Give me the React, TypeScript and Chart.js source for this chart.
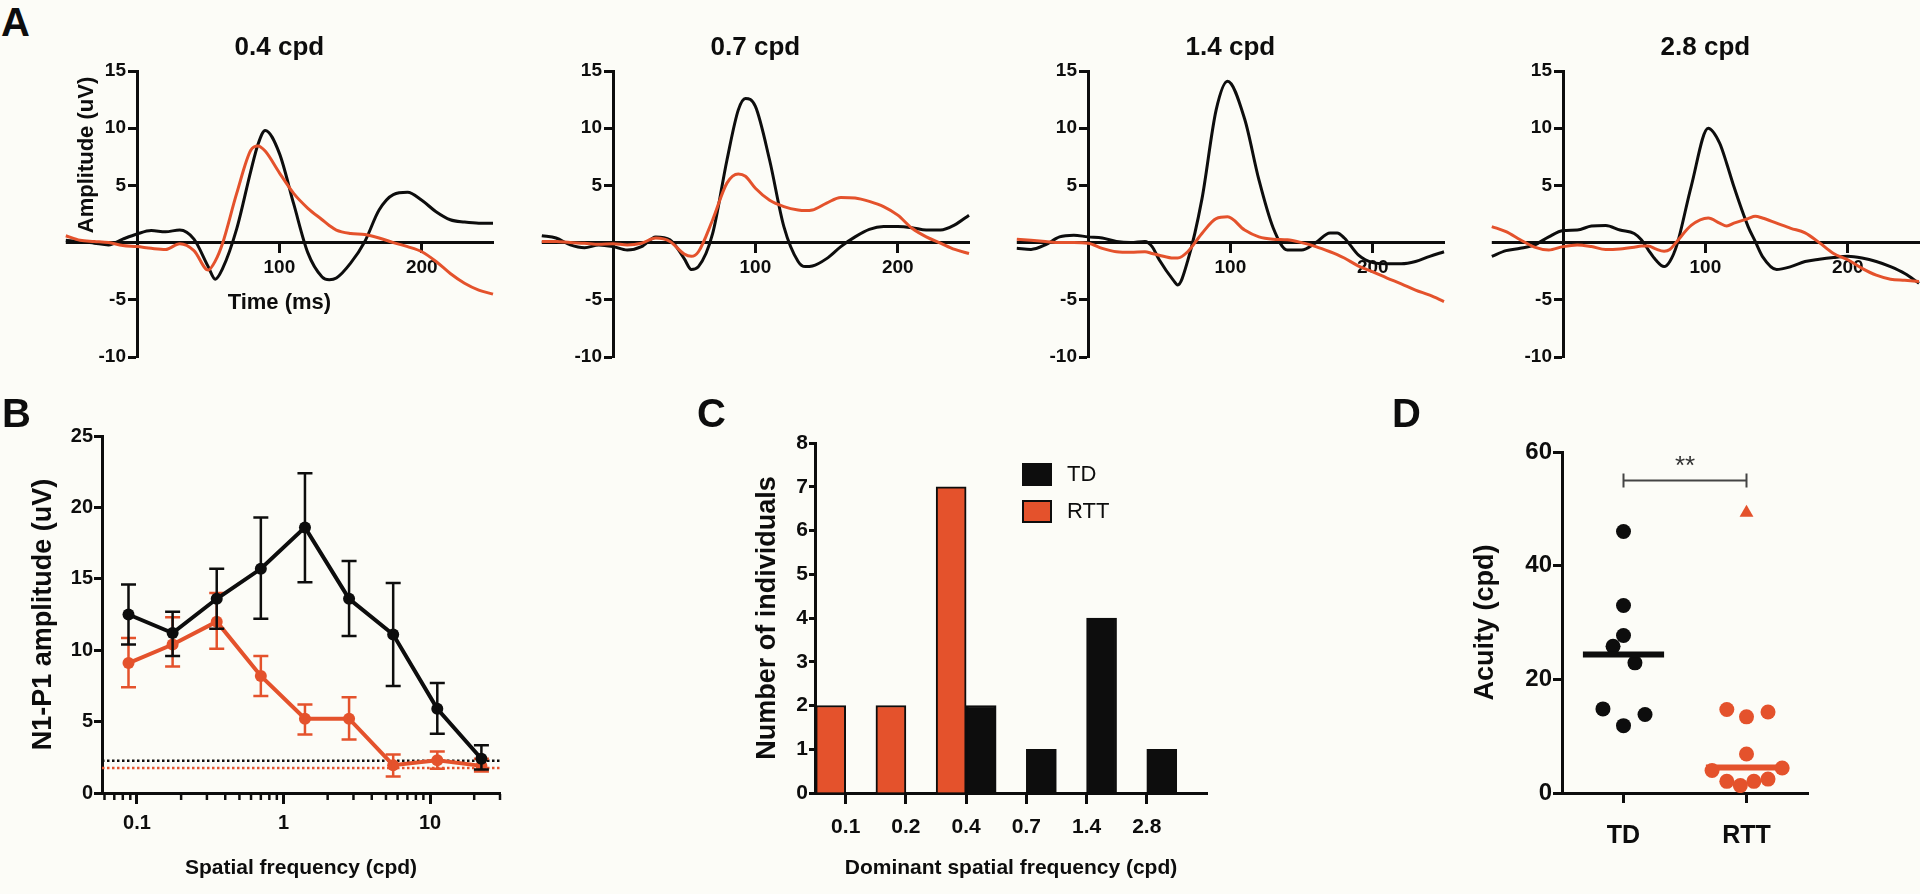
import React, { useEffect, useRef } from 'react';
import { Chart, registerables } from 'chart.js';

Chart.register(...registerables);

const FONT = '"Liberation Sans", Arial, Helvetica, sans-serif';
Chart.defaults.font.family = FONT;
Chart.defaults.color = '#000';

const BLACK = '#0d0d0d';
const RED = '#E4522C';
const BG = '#fcfcf7';

// ---------------- Panel A: waveforms ----------------
const A_TITLES = ['0.4 cpd', '0.7 cpd', '1.4 cpd', '2.8 cpd'];
const A_Y_TICKS = [-10, -5, 5, 10, 15];
const A_X_TICKS = [100, 200];
const A_T_MAX = 250;

const TIME_04 = [-50, -40, -30, -20, -10, 0, 10, 20, 30, 40, 50, 55, 60, 70, 80, 85, 90, 100, 110, 120, 130, 135, 140, 150, 160, 170, 180, 190, 200, 210, 220, 230, 240, 250];
const TD_04 = [0.2, 0.1, -0.05, -0.2, 0.3, 0.75, 1.05, 0.95, 1.1, 0.3, -2.1, -3.2, -2.3, 1.2, 6.3, 8.6, 9.8, 7.8, 3.4, -0.9, -3.0, -3.25, -3.1, -1.8, 0.1, 2.85, 4.2, 4.4, 3.7, 2.7, 2.0, 1.8, 1.7, 1.7];
const RTT_04 = [0.6, 0.2, 0.1, 0, -0.25, -0.35, -0.5, -0.6, -0.1, -0.7, -2.4, -1.6, -0.1, 4.3, 8.1, 8.45, 8.0, 6.1, 4.3, 3.0, 2.0, 1.5, 1.1, 0.8, 0.7, 0.4, 0, -0.35, -0.8, -1.65, -2.7, -3.55, -4.15, -4.5];

const TIME_07 = [-50, -40, -30, -20, -10, 0, 10, 20, 30, 40, 50, 55, 60, 70, 80, 88, 93, 100, 110, 120, 130, 135, 140, 150, 160, 170, 180, 190, 200, 210, 220, 230, 240, 250];
const TD_07 = [0.6, 0.4, -0.2, -0.45, -0.2, -0.35, -0.65, -0.35, 0.5, 0.25, -1.4, -2.35, -2.1, 0.8, 7.2, 11.6, 12.6, 11.9, 7.2, 1.4, -1.65, -2.1, -2.05, -1.4, -0.35, 0.5, 1.15, 1.4, 1.4, 1.3, 1.1, 1.1, 1.55, 2.4];
const RTT_07 = [0.1, 0.1, 0, -0.05, -0.15, -0.1, -0.2, -0.05, 0.4, 0.1, -1.0, -1.2, -0.8, 2.0, 5.2, 6.0, 5.8, 4.75, 3.7, 3.15, 2.85, 2.8, 2.85, 3.45, 3.95, 3.9, 3.6, 3.15, 2.4, 1.25, 0.5, -0.05, -0.6, -0.95];

const TIME_14 = [-50, -40, -30, -20, -10, 0, 10, 20, 30, 40, 45, 50, 60, 63, 70, 80, 90, 98, 110, 120, 130, 140, 150, 160, 170, 175, 180, 190, 200, 210, 220, 230, 240, 250];
const TD_14 = [-0.5, -0.6, -0.2, 0.5, 0.65, 0.5, 0.4, 0.1, 0, 0.1, -0.35, -1.5, -3.3, -3.7, -1.6, 3.8, 11.6, 14.1, 10.8, 5.5, 1.3, -0.65, -0.65, 0, 0.85, 0.85, 0.4, -1.1, -1.75, -1.85, -1.85, -1.65, -1.2, -0.8];
const RTT_14 = [0.3, 0.2, 0.1, 0, 0, -0.05, -0.5, -0.8, -0.85, -0.8, -0.95, -1.1, -1.35, -1.35, -0.8, 0.8, 2.1, 2.25, 1.1, 0.5, 0.3, 0.25, 0, -0.35, -0.8, -1.05, -1.35, -2.05, -2.55, -3.1, -3.6, -4.15, -4.6, -5.15];

const TIME_28 = [-50, -40, -30, -20, -10, 0, 10, 20, 30, 40, 50, 55, 60, 65, 71, 75, 80, 90, 102, 110, 115, 120, 130, 135, 140, 150, 160, 170, 180, 190, 200, 210, 220, 230, 240, 250];
const TD_28 = [-1.2, -0.7, -0.5, -0.2, 0.5, 1.05, 1.1, 1.45, 1.5, 1.1, 0.8, 0.25, -0.65, -1.5, -2.1, -1.65, -0.2, 4.9, 10.0, 8.7, 6.9, 4.9, 1.4, 0.1, -1.2, -2.35, -2.1, -1.65, -1.45, -1.3, -1.2, -1.35, -1.65, -2.1, -2.7, -3.55];
const RTT_28 = [1.4, 0.95, 0.25, -0.4, -0.65, -0.35, -0.2, -0.35, -0.6, -0.55, -0.4, -0.3, -0.3, -0.55, -0.75, -0.6, 0.1, 1.5, 2.15, 1.7, 1.45, 1.7, 2.1, 2.3, 2.15, 1.7, 1.25, 0.85, 0, -0.95, -1.5, -2.25, -2.85, -3.2, -3.3, -3.4];

const A_TIMES = [TIME_04, TIME_07, TIME_14, TIME_28];
const A_TD = [TD_04, TD_07, TD_14, TD_28];
const A_RTT = [RTT_04, RTT_07, RTT_14, RTT_28];

// ---------------- Panel B: amplitude vs spatial frequency ----------------
const SF = [0.0875, 0.175, 0.35, 0.7, 1.4, 2.8, 5.6, 11.2, 22.4];
const B_TD_MEAN = [12.5, 11.2, 13.6, 15.7, 18.6, 13.6, 11.1, 5.9, 2.4];
const B_TD_HI = [14.6, 12.7, 15.7, 19.3, 22.4, 16.25, 14.7, 7.7, 3.35];
const B_TD_LO = [10.4, 9.6, 11.5, 12.2, 14.75, 11.0, 7.5, 4.15, 1.65];
const B_RTT_MEAN = [9.1, 10.4, 12.0, 8.2, 5.2, 5.2, 1.95, 2.3, 1.9];
const B_RTT_HI = [10.85, 12.3, 14.0, 9.6, 6.2, 6.7, 2.7, 2.9, 2.4];
const B_RTT_LO = [7.4, 8.85, 10.1, 6.8, 4.1, 3.75, 1.15, 1.7, 1.5];
const NOISE_TD = 2.25;
const NOISE_RTT = 1.75;
const B_X_MIN = 0.0577;
const B_X_MAX = 30;
const B_X_LABELS = [0.1, 1, 10];
const B_MINOR_TICKS = [0.06, 0.07, 0.08, 0.09, 0.2, 0.3, 0.4, 0.5, 0.6, 0.7, 0.8, 0.9, 2, 3, 4, 5, 6, 7, 8, 9, 20, 30];

// ---------------- Panel C: histogram ----------------
const C_CATS = ['0.1', '0.2', '0.4', '0.7', '1.4', '2.8'];
const C_TD = [0, 0, 2, 1, 4, 1];
const C_RTT = [2, 2, 7, 0, 0, 0];

// ---------------- Panel D: acuity ----------------
const D_GROUPS = ['TD', 'RTT'];
const D_TD = [46.0, 33.0, 27.7, 25.8, 22.9, 14.8, 13.8, 11.85];
const D_TD_JITTER = [0, 0, 0, -0.085, 0.093, -0.167, 0.175, 0];
const D_RTT = [14.7, 13.4, 14.25, 6.85, 3.95, 4.4, 2.05, 1.3, 2.05, 2.45];
const D_RTT_JITTER = [-0.16, 0, 0.175, 0, -0.28, 0.29, -0.16, -0.05, 0.06, 0.175];
const D_RTT_OUTLIER = 49.3;
const D_TD_MEDIAN = 24.35;
const D_RTT_MEDIAN = 4.5;
const D_MEDIAN_HALF = 0.33;
const D_SIG_Y = 55;

// ---------------- helpers ----------------
type Box = { left: number; top: number; width: number; height: number };

function ChartBox({ box, build }: { box: Box; build: () => any }) {
  const ref = useRef<HTMLCanvasElement | null>(null);
  useEffect(() => {
    if (!ref.current) return;
    const chart = new Chart(ref.current, build());
    return () => chart.destroy();
  }, []);
  return (
    <canvas
      ref={ref}
      width={box.width}
      height={box.height}
      style={{ position: 'absolute', left: box.left, top: box.top, width: box.width, height: box.height }}
    />
  );
}

const axisGrid = (tickLength: number) => ({
  display: true,
  drawOnChartArea: false,
  drawTicks: true,
  offset: false,
  tickLength,
  tickWidth: 3,
  tickColor: BLACK,
  color: BLACK,
});
const axisBorder = { display: true, width: 3, color: BLACK };
const baseOptions = {
  responsive: false,
  maintainAspectRatio: false,
  animation: false,
  events: [],
};
const noPlugins = { legend: { display: false }, tooltip: { enabled: false }, title: { display: false } };

// ---------------- Panel A ----------------
const A_AXIS_X = [137, 613, 1088, 1563];

const waveDecor = (i: number) => ({
  id: 'waveDecor' + i,
  beforeDatasetsDraw(chart: any) {
    const { ctx, chartArea, scales } = chart;
    const y0 = scales.y.getPixelForValue(0);
    ctx.save();
    ctx.strokeStyle = BLACK;
    ctx.lineWidth = 3;
    ctx.beginPath();
    ctx.moveTo(scales.x.getPixelForValue(A_TIMES[i][0]), y0);
    ctx.lineTo(chartArea.left, y0);
    ctx.stroke();
    ctx.restore();
  },
  afterDraw(chart: any) {
    const { ctx, chartArea, scales } = chart;
    const xc = scales.x.getPixelForValue(100);
    ctx.save();
    ctx.fillStyle = BLACK;
    ctx.textAlign = 'center';
    ctx.textBaseline = 'middle';
    ctx.font = `bold 26px ${FONT}`;
    ctx.fillText(A_TITLES[i], xc, chartArea.top - 23);
    if (i === 0) {
      ctx.font = `bold 22px ${FONT}`;
      ctx.fillText('Time (ms)', xc, scales.y.getPixelForValue(0) + 60);
      ctx.translate(chartArea.left - 50, chartArea.top + 84);
      ctx.rotate(-Math.PI / 2);
      ctx.fillText('Amplitude (uV)', 0, 0);
    }
    ctx.restore();
  },
});

function buildWave(i: number) {
  const t = A_TIMES[i];
  const mk = (vals: number[]) => t.map((x, k) => ({ x, y: vals[k] }));
  const common = {
    pointRadius: 0,
    borderWidth: 3,
    cubicInterpolationMode: 'monotone',
    capBezierPoints: false,
    clip: false,
    fill: false,
  };
  return {
    type: 'line',
    data: {
      datasets: [
        { label: 'RTT', data: mk(A_RTT[i]), borderColor: RED, ...common },
        { label: 'TD', data: mk(A_TD[i]), borderColor: BLACK, ...common },
      ],
    },
    options: {
      ...baseOptions,
      layout: { padding: { left: 60, top: 71, right: 12, bottom: 33 } },
      plugins: noPlugins,
      scales: {
        x: {
          type: 'linear',
          position: { y: 0 },
          bounds: 'data',
          afterDataLimits: (s: any) => {
            s.min = 0;
            s.max = A_T_MAX;
          },
          afterBuildTicks: (s: any) => {
            s.ticks = A_X_TICKS.map((v) => ({ value: v }));
          },
          grid: axisGrid(9),
          border: axisBorder,
          ticks: { color: BLACK, font: { size: 19, weight: 'bold' }, padding: 5, maxRotation: 0, autoSkip: false, callback: (v: any) => String(v) },
        },
        y: {
          type: 'linear',
          position: 'left',
          min: -10,
          max: 15,
          bounds: 'data',
          afterBuildTicks: (s: any) => {
            s.ticks = A_Y_TICKS.map((v) => ({ value: v }));
          },
          afterFit: (s: any) => {
            s.width = 40;
          },
          grid: axisGrid(9),
          border: axisBorder,
          ticks: { color: BLACK, font: { size: 19, weight: 'bold' }, padding: 2, callback: (v: any) => String(v) },
        },
      },
    },
    plugins: [waveDecor(i)],
  };
}

// ---------------- Panel B ----------------
const bDecor = {
  id: 'bDecor',
  afterDatasetDraw(chart: any, args: any) {
    if (args.index > 1) return;
    const sets: [number[], number[], string][] = [
      [B_TD_LO, B_TD_HI, BLACK],
      [B_RTT_LO, B_RTT_HI, RED],
    ];
    const [lo, hi, col] = sets[args.index];
    const { ctx, scales } = chart;
    ctx.save();
    ctx.strokeStyle = col;
    ctx.lineWidth = 2.5;
    SF.forEach((f, k) => {
      const px = scales.x.getPixelForValue(f);
      const yl = scales.y.getPixelForValue(lo[k]);
      const yh = scales.y.getPixelForValue(hi[k]);
      ctx.beginPath();
      ctx.moveTo(px, yl);
      ctx.lineTo(px, yh);
      ctx.moveTo(px - 7.5, yl);
      ctx.lineTo(px + 7.5, yl);
      ctx.moveTo(px - 7.5, yh);
      ctx.lineTo(px + 7.5, yh);
      ctx.stroke();
    });
    ctx.restore();
  },
  afterDraw(chart: any) {
    const { ctx, chartArea, scales } = chart;
    ctx.save();
    ctx.strokeStyle = BLACK;
    ctx.lineWidth = 2.5;
    B_MINOR_TICKS.forEach((v) => {
      const px = scales.x.getPixelForValue(v);
      ctx.beginPath();
      ctx.moveTo(px, chartArea.bottom + 1);
      ctx.lineTo(px, chartArea.bottom + 7);
      ctx.stroke();
    });
    ctx.restore();
  },
};

function buildB() {
  const line = (mean: number[], col: string, label: string) => ({
    label,
    data: SF.map((x, k) => ({ x, y: mean[k] })),
    borderColor: col,
    backgroundColor: col,
    borderWidth: 4,
    pointRadius: 6,
    pointBorderWidth: 0,
    pointBackgroundColor: col,
    tension: 0,
  });
  const noise = (v: number, col: string) => ({
    data: [
      { x: B_X_MIN, y: v },
      { x: B_X_MAX, y: v },
    ],
    borderColor: col,
    borderWidth: 2.5,
    borderDash: [2.5, 2.5],
    pointRadius: 0,
  });
  return {
    type: 'line',
    data: {
      datasets: [line(B_TD_MEAN, BLACK, 'TD'), line(B_RTT_MEAN, RED, 'RTT'), noise(NOISE_TD, BLACK), noise(NOISE_RTT, RED)],
    },
    options: {
      ...baseOptions,
      layout: { padding: { left: 30, top: 56, right: 40, bottom: 15 } },
      plugins: noPlugins,
      scales: {
        x: {
          type: 'logarithmic',
          position: 'bottom',
          min: B_X_MIN,
          max: B_X_MAX,
          bounds: 'data',
          afterBuildTicks: (s: any) => {
            s.ticks = B_X_LABELS.map((v) => ({ value: v, major: true }));
          },
          afterFit: (s: any) => {
            s.height = 86;
          },
          grid: axisGrid(11),
          border: axisBorder,
          ticks: { color: BLACK, font: { size: 20, weight: 'bold' }, padding: 7, maxRotation: 0, autoSkip: false, callback: (v: any) => String(v) },
          title: { display: true, text: 'Spatial frequency (cpd)', color: BLACK, font: { size: 21, weight: 'bold', lineHeight: 1 }, padding: 0 },
        },
        y: {
          type: 'linear',
          position: 'left',
          min: 0,
          max: 25,
          bounds: 'data',
          ticks: { stepSize: 5, color: BLACK, font: { size: 20, weight: 'bold' }, padding: 1 },
          afterFit: (s: any) => {
            s.width = 72;
          },
          grid: axisGrid(8),
          border: axisBorder,
          title: { display: true, text: 'N1-P1 amplitude (uV)', color: BLACK, font: { size: 27, weight: 'bold', lineHeight: 1 }, padding: 0 },
        },
      },
    },
    plugins: [bDecor],
  };
}

// ---------------- Panel C ----------------
const cLegend = {
  id: 'cLegend',
  afterDraw(chart: any) {
    const { ctx, chartArea } = chart;
    const order = [1, 0];
    const bx = chartArea.left + 207;
    ctx.save();
    order.forEach((di, k) => {
      const ds = chart.data.datasets[di];
      const by = chartArea.top + 20 + k * 37;
      ctx.fillStyle = ds.backgroundColor;
      ctx.fillRect(bx, by, 30, 23);
      ctx.strokeStyle = BLACK;
      ctx.lineWidth = 2;
      ctx.strokeRect(bx + 1, by + 1, 28, 21);
      ctx.fillStyle = BLACK;
      ctx.font = `22px ${FONT}`;
      ctx.textAlign = 'left';
      ctx.textBaseline = 'middle';
      ctx.fillText(ds.label, bx + 45, by + 12);
    });
    ctx.restore();
  },
};

function buildC() {
  const bars = (vals: number[], col: string, label: string) => ({
    label,
    data: vals.map((y, i) => ({ x: i, y })),
    backgroundColor: col,
    borderColor: BLACK,
    borderWidth: 2,
    barThickness: 30,
  });
  return {
    type: 'bar',
    data: { datasets: [bars(C_RTT, RED, 'RTT'), bars(C_TD, BLACK, 'TD')] },
    options: {
      ...baseOptions,
      layout: { padding: { left: 54, top: 63, right: 13, bottom: 15 } },
      plugins: noPlugins,
      scales: {
        x: {
          type: 'linear',
          position: 'bottom',
          offset: false,
          min: -0.51,
          max: 6.0,
          bounds: 'data',
          afterBuildTicks: (s: any) => {
            s.ticks = C_CATS.map((_, i) => ({ value: i }));
          },
          afterFit: (s: any) => {
            s.height = 86;
          },
          grid: axisGrid(11),
          border: axisBorder,
          ticks: { color: BLACK, font: { size: 21, weight: 'bold' }, padding: 11, maxRotation: 0, autoSkip: false, callback: (v: any) => C_CATS[v] },
          title: { display: true, text: 'Dominant spatial frequency (cpd)', color: BLACK, font: { size: 21, weight: 'bold', lineHeight: 1 }, padding: 0 },
        },
        y: {
          type: 'linear',
          position: 'left',
          min: 0,
          max: 8,
          bounds: 'data',
          ticks: { stepSize: 1, color: BLACK, font: { size: 21, weight: 'bold' }, padding: 1 },
          afterFit: (s: any) => {
            s.width = 61;
          },
          grid: axisGrid(6),
          border: axisBorder,
          title: { display: true, text: 'Number of individuals', color: BLACK, font: { size: 27, weight: 'bold', lineHeight: 1 }, padding: 0 },
        },
      },
    },
    plugins: [cLegend],
  };
}

// ---------------- Panel D ----------------
const dSig = {
  id: 'dSig',
  afterDraw(chart: any) {
    const { ctx, scales } = chart;
    const x1 = scales.x.getPixelForValue(0);
    const x2 = scales.x.getPixelForValue(1);
    const yy = scales.y.getPixelForValue(D_SIG_Y);
    ctx.save();
    ctx.strokeStyle = '#444';
    ctx.lineWidth = 2;
    ctx.beginPath();
    ctx.moveTo(x1, yy);
    ctx.lineTo(x2, yy);
    ctx.moveTo(x1, yy - 7);
    ctx.lineTo(x1, yy + 7);
    ctx.moveTo(x2, yy - 7);
    ctx.lineTo(x2, yy + 7);
    ctx.stroke();
    ctx.fillStyle = '#333';
    ctx.font = `26px ${FONT}`;
    ctx.textAlign = 'center';
    ctx.textBaseline = 'alphabetic';
    ctx.fillText('**', (x1 + x2) / 2, yy - 6);
    ctx.restore();
  },
};

function buildD() {
  const median = (c: number, v: number, col: string) => ({
    type: 'line',
    showLine: true,
    data: [
      { x: c - D_MEDIAN_HALF, y: v },
      { x: c + D_MEDIAN_HALF, y: v },
    ],
    borderColor: col,
    borderWidth: 6,
    pointRadius: 0,
  });
  const dots = (c: number, vals: number[], jit: number[], col: string) => ({
    data: vals.map((y, k) => ({ x: c + jit[k], y })),
    backgroundColor: col,
    pointBackgroundColor: col,
    pointRadius: 7.5,
    pointBorderWidth: 0,
  });
  return {
    type: 'scatter',
    data: {
      datasets: [
        median(0, D_TD_MEDIAN, BLACK),
        median(1, D_RTT_MEDIAN, RED),
        dots(0, D_TD, D_TD_JITTER, BLACK),
        dots(1, D_RTT, D_RTT_JITTER, RED),
        {
          data: [{ x: 1, y: D_RTT_OUTLIER }],
          pointStyle: 'triangle',
          pointRadius: 8,
          pointBorderWidth: 0,
          backgroundColor: RED,
          pointBackgroundColor: RED,
        },
      ],
    },
    options: {
      ...baseOptions,
      layout: { padding: { left: 52, top: 72, right: 52, bottom: 41 } },
      plugins: noPlugins,
      scales: {
        x: {
          type: 'linear',
          position: 'bottom',
          offset: false,
          min: -0.5,
          max: 1.5,
          bounds: 'data',
          afterBuildTicks: (s: any) => {
            s.ticks = D_GROUPS.map((_, i) => ({ value: i }));
          },
          afterFit: (s: any) => {
            s.height = 60;
          },
          grid: axisGrid(10),
          border: axisBorder,
          ticks: { color: BLACK, font: { size: 25, weight: 'bold' }, padding: 18, maxRotation: 0, autoSkip: false, callback: (v: any) => D_GROUPS[v] },
        },
        y: {
          type: 'linear',
          position: 'left',
          min: 0,
          max: 60,
          bounds: 'data',
          ticks: { stepSize: 20, color: BLACK, font: { size: 24, weight: 'bold' }, padding: 1 },
          afterFit: (s: any) => {
            s.width = 90;
          },
          grid: axisGrid(9),
          border: axisBorder,
          title: { display: true, text: 'Acuity (cpd)', color: BLACK, font: { size: 27, weight: 'bold', lineHeight: 1 }, padding: 0 },
        },
      },
    },
    plugins: [dSig],
  };
}

// ---------------- App ----------------
const letterStyle = (left: number, top: number): React.CSSProperties => ({
  position: 'absolute',
  left,
  top,
  margin: 0,
  fontFamily: FONT,
  fontWeight: 'bold',
  fontSize: 40,
  lineHeight: '40px',
  color: BLACK,
});

export default function App() {
  return (
    <div
      style={{
        position: 'absolute',
        left: 0,
        top: 0,
        width: 1920,
        height: 894,
        background: BG,
        overflow: 'hidden',
        fontFamily: FONT,
      }}
    >
      {A_AXIS_X.map((x0, i) => (
        <ChartBox key={i} box={{ left: x0 - 100, top: 0, width: 468, height: 390 }} build={() => buildWave(i)} />
      ))}
      <ChartBox box={{ left: 0, top: 380, width: 540, height: 514 }} build={buildB} />
      <ChartBox box={{ left: 700, top: 380, width: 520, height: 514 }} build={buildC} />
      <ChartBox box={{ left: 1420, top: 380, width: 440, height: 514 }} build={buildD} />
      <div style={letterStyle(1, 2)}>A</div>
      <div style={letterStyle(2, 393)}>B</div>
      <div style={letterStyle(697, 393)}>C</div>
      <div style={letterStyle(1392, 393)}>D</div>
    </div>
  );
}
